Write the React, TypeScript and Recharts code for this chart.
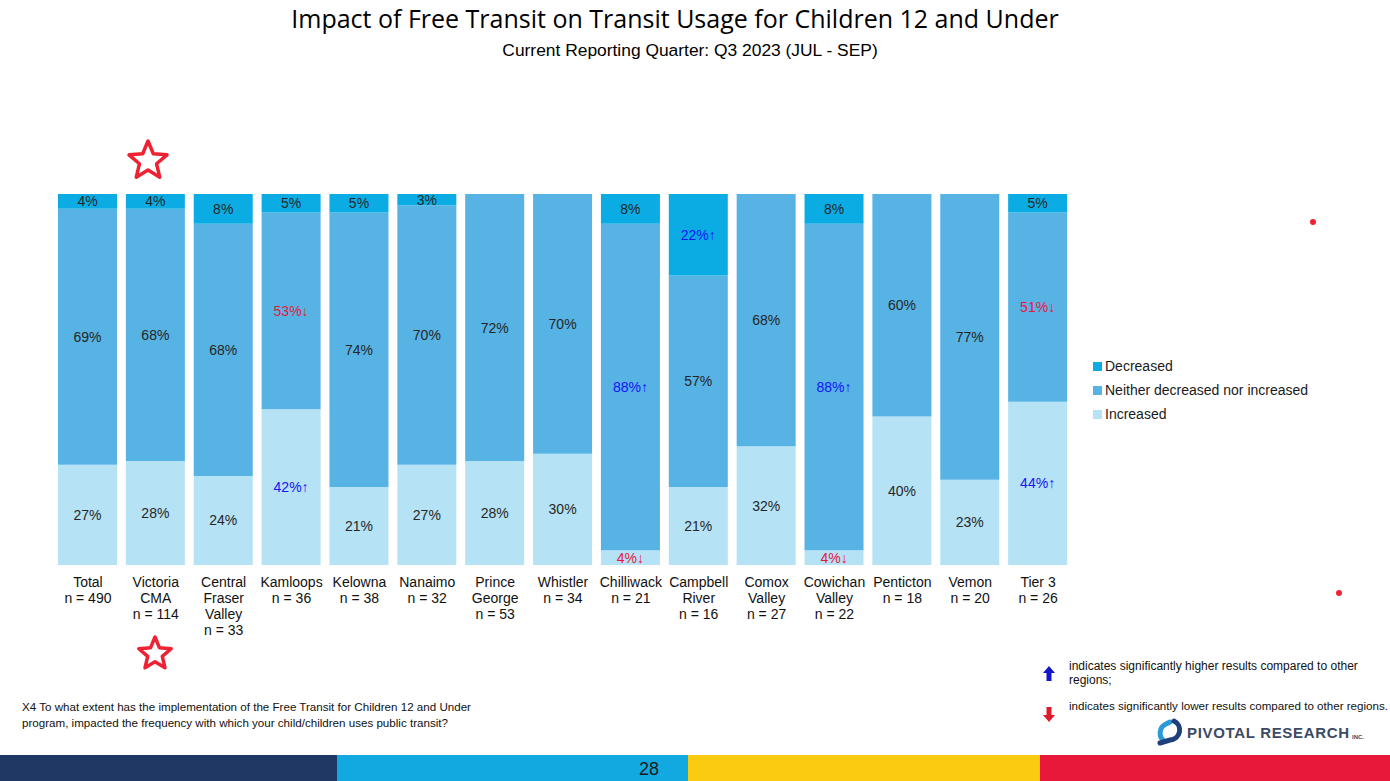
import { BarChart, Bar, XAxis, YAxis, LabelList } from "recharts";

// regions shown on the x axis (lines split by \n)
const regions = [
  "Total\nn = 490",
  "Victoria\nCMA\nn = 114",
  "Central\nFraser\nValley\nn = 33",
  "Kamloops\nn = 36",
  "Kelowna\nn = 38",
  "Nanaimo\nn = 32",
  "Prince\nGeorge\nn = 53",
  "Whistler\nn = 34",
  "Chilliwack\nn = 21",
  "Campbell\nRiver\nn = 16",
  "Comox\nValley\nn = 27",
  "Cowichan\nValley\nn = 22",
  "Penticton\nn = 18",
  "Vemon\nn = 20",
  "Tier 3\nn = 26",
];

const increased = [27, 28, 24, 42, 21, 27, 28, 30, 4, 21, 32, 4, 40, 23, 44];
const neither = [69, 68, 68, 53, 74, 70, 72, 70, 88, 57, 68, 88, 60, 77, 51];
const decreased = [4, 4, 8, 5, 5, 3, 0, 0, 8, 22, 0, 8, 0, 0, 5];

// significance flags: "up" = significantly higher, "down" = significantly lower
const increasedSig = ["", "", "", "up", "", "", "", "", "down", "", "", "down", "", "", "up"];
const neitherSig = ["", "", "", "down", "", "", "", "", "up", "", "", "up", "", "", "down"];
const decreasedSig = ["", "", "", "", "", "", "", "", "", "up", "", "", "", "", ""];

const COLORS = {
  decreased: "#0BACE3",
  neither: "#56B3E4",
  increased: "#B5E2F5",
};

const FONT = "'Liberation Sans', Arial, sans-serif";

const data = regions.map((name, i) => ({
  name,
  increased: increased[i],
  neither: neither[i],
  decreased: decreased[i],
}));

// label content keyed by region name, so zero-height segments can't shift the lookup
function makeLabel(values: number[], sig: string[]) {
  return (props: any) => {
    const { x, y, width, height, value } = props;
    const index = regions.indexOf(String(value));
    if (index < 0) return null;
    const v = values[index];
    if (!v) return null;
    const s = sig[index];
    const fill = s === "up" ? "#1515F5" : s === "down" ? "#E8163C" : "#262626";
    const arrow = s === "up" ? "\u2191" : s === "down" ? "\u2193" : "";
    return (
      <text
        key={`${value}`}
        x={Number(x) + Number(width) / 2}
        y={Number(y) + Number(height) / 2}
        textAnchor="middle"
        dominantBaseline="central"
        fontSize={14}
        fontFamily={FONT}
        fill={fill}
      >
        {v}%{arrow}
      </text>
    );
  };
}

function RegionTick(props: any) {
  const { x, y, payload } = props;
  const lines = String(payload.value).split("\n");
  return (
    <text x={x} y={y} textAnchor="middle" fontSize={14} fontFamily={FONT} fill="#111">
      {lines.map((l, i) => (
        <tspan key={i} x={x} dy={i === 0 ? 14 : 16}>
          {l}
        </tspan>
      ))}
    </text>
  );
}

function LegendBox() {
  const items = [
    { label: "Decreased", color: COLORS.decreased },
    { label: "Neither decreased nor increased", color: COLORS.neither },
    { label: "Increased", color: COLORS.increased },
  ];
  return (
    <div style={{ position: "absolute", left: 1093, top: 354, fontFamily: FONT, fontSize: 14, color: "#1a1a1a" }}>
      {items.map((it) => (
        <div key={it.label} style={{ display: "flex", alignItems: "center", height: 24 }}>
          <span style={{ width: 9, height: 9, background: it.color, marginRight: 3 }} />
          {it.label}
        </div>
      ))}
    </div>
  );
}

function Star({ cx, cy, r }: { cx: number; cy: number; r: number }) {
  const pts: string[] = [];
  for (let i = 0; i < 10; i++) {
    const rad = i % 2 === 0 ? r : r * 0.45;
    const a = -Math.PI / 2 + (i * Math.PI) / 5;
    pts.push(`${cx + rad * Math.cos(a)},${cy + rad * Math.sin(a)}`);
  }
  return <polygon points={pts.join(" ")} fill="none" stroke="#EE2233" strokeWidth={3.5} strokeLinejoin="round" />;
}

export default function App() {
  return (
    <div style={{ position: "absolute", left: 0, top: 0, width: 1390, height: 781, background: "#fff", overflow: "hidden" }}>
      <BarChart
        width={1390}
        height={781}
        data={data}
        margin={{ top: 194, right: 318, bottom: 156, left: 54 }}
        barSize={59}
        style={{ position: "absolute", left: 0, top: 0 }}
      >
        <XAxis dataKey="name" axisLine={false} tickLine={false} interval={0} height={60} tick={<RegionTick />} />
        <YAxis hide domain={[0, 100]} />
        <Bar dataKey="increased" stackId="a" fill={COLORS.increased} isAnimationActive={false}>
          <LabelList dataKey="name" content={makeLabel(increased, increasedSig)} />
        </Bar>
        <Bar dataKey="neither" stackId="a" fill={COLORS.neither} isAnimationActive={false}>
          <LabelList dataKey="name" content={makeLabel(neither, neitherSig)} />
        </Bar>
        <Bar dataKey="decreased" stackId="a" fill={COLORS.decreased} isAnimationActive={false}>
          <LabelList dataKey="name" content={makeLabel(decreased, decreasedSig)} />
        </Bar>
      </BarChart>

      <div
        style={{
          position: "absolute",
          top: 1,
          left: 0,
          width: 1350,
          textAlign: "center",
          fontFamily: "'Open Sans', sans-serif",
          fontSize: 25,
          color: "#000",
        }}
      >
        Impact of Free Transit on Transit Usage for Children 12 and Under
      </div>
      <div
        style={{
          position: "absolute",
          top: 40,
          left: 0,
          width: 1380,
          textAlign: "center",
          fontFamily: FONT,
          fontSize: 17.4,
          color: "#000",
        }}
      >
        Current Reporting Quarter: Q3 2023 (JUL - SEP)
      </div>

      <LegendBox />

      <svg width={1390} height={781} style={{ position: "absolute", left: 0, top: 0, pointerEvents: "none" }}>
        <Star cx={148} cy={161} r={20} />
        <Star cx={155} cy={654} r={17} />
        <circle cx={1313} cy={222} r={3} fill="#EE2233" />
        <circle cx={1339} cy={593} r={3} fill="#EE2233" />
        {/* significance arrows */}
        <path d="M1049,666 L1055,673 L1051.5,673 L1051.5,681 L1046.5,681 L1046.5,673 L1043,673 Z" fill="#1515C8" />
        <path d="M1049,722 L1055,715 L1051.5,715 L1051.5,707 L1046.5,707 L1046.5,715 L1043,715 Z" fill="#E01A2A" />
        {/* logo swirl */}
        <path d="M1164,741 A10,10 0 0 1 1166,724 L1170,722" fill="none" stroke="#2A9BD8" strokeWidth={5} strokeLinecap="round" />
        <path d="M1174,721 A10,10 0 0 1 1170,740 L1160,743" fill="none" stroke="#1F3F7A" strokeWidth={5} strokeLinecap="round" />
        <text x={1187} y={738} fontFamily={FONT} fontSize={15} fontWeight="bold" fill="#3B4A63" textLength={162}>
          PIVOTAL RESEARCH
        </text>
        <text x={1352} y={739} fontFamily={FONT} fontSize={6} fontWeight="bold" fill="#3B4A63">
          INC.
        </text>
        {/* footer band */}
        <rect x={0} y={755} width={337} height={26} fill="#203864" />
        <rect x={337} y={755} width={351} height={26} fill="#12A8E0" />
        <rect x={688} y={755} width={352} height={26} fill="#FBCB12" />
        <rect x={1040} y={755} width={350} height={26} fill="#E8183B" />
        <text x={649} y={775} textAnchor="middle" fontFamily={FONT} fontSize={18} fill="#1a1a1a">
          28
        </text>
      </svg>

      <div style={{ position: "absolute", left: 22, top: 699, fontFamily: FONT, fontSize: 11.6, lineHeight: "16px", color: "#111", whiteSpace: "nowrap" }}>
        X4 To what extent has the implementation of the Free Transit for Children 12 and Under
        <br />
        program, impacted the frequency with which your child/children uses public transit?
      </div>
      <div style={{ position: "absolute", left: 1069, top: 659, width: 300, fontFamily: FONT, fontSize: 12, lineHeight: "14px", color: "#111" }}>
        indicates significantly higher results compared to other regions;
      </div>
      <div style={{ position: "absolute", left: 1069, top: 699, fontFamily: FONT, fontSize: 11.6, lineHeight: "14px", color: "#111", whiteSpace: "nowrap" }}>
        indicates significantly lower results compared to other regions.
      </div>
    </div>
  );
}
